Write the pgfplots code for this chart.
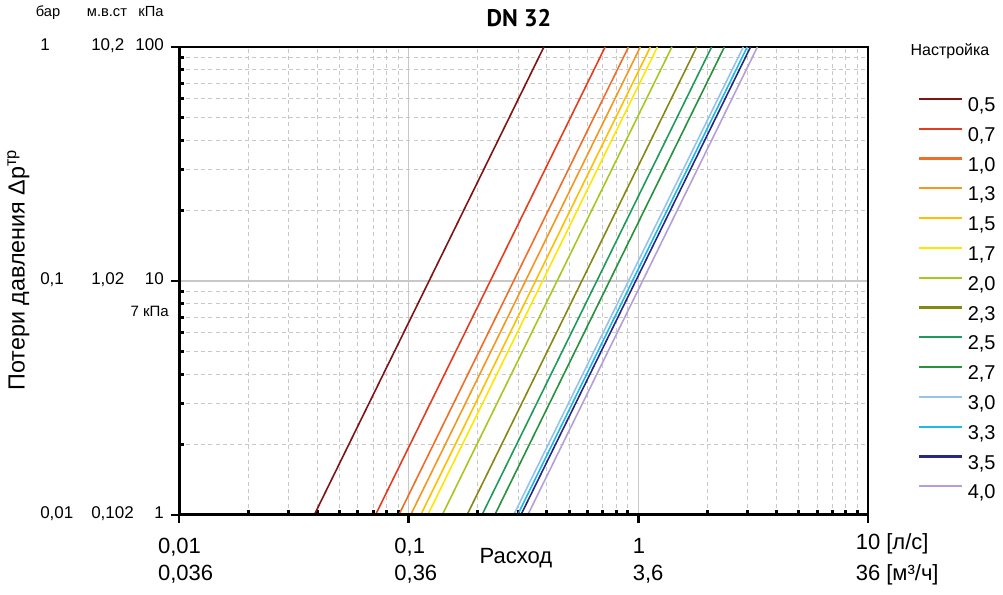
\documentclass[border=0pt]{standalone}
\usepackage{pgfplots}
\pgfplotsset{compat=1.18}
\usepackage{fontspec}
\setmainfont{Liberation Sans}
\newfontfamily\titlefont{PT Sans}
\definecolor{c05}{RGB}{128,20,20}
\definecolor{c07}{RGB}{230,60,30}
\definecolor{c10}{RGB}{240,110,40}
\definecolor{c13}{RGB}{245,150,30}
\definecolor{c15}{RGB}{255,190,0}
\definecolor{c17}{RGB}{255,230,0}
\definecolor{c20}{RGB}{165,200,30}
\definecolor{c23}{RGB}{135,135,20}
\definecolor{c25}{RGB}{30,155,90}
\definecolor{c27}{RGB}{40,145,60}
\definecolor{c30}{RGB}{150,195,235}
\definecolor{c33}{RGB}{30,185,235}
\definecolor{c35}{RGB}{40,40,130}
\definecolor{c40}{RGB}{180,160,215}
\definecolor{gridc}{RGB}{200,200,200}
\newcommand\fa{\fontsize{12.75}{15}\selectfont}
\newcommand\fb{\fontsize{16.5}{19}\selectfont}
\newcommand\fc{\fontsize{15}{18}\selectfont}
\newcommand\fh{\fontsize{11}{13}\selectfont}
\begin{document}
\begin{tikzpicture}[x=0.75pt,y=0.75pt]
\useasboundingbox (0,0) rectangle (1003,595);
\begin{axis}[
  at={(134.25pt,60pt)}, anchor=south west,
  scale only axis, width=516.75pt, height=351pt,
  xmode=log, ymode=log,
  xmin=0.01, xmax=10, ymin=1, ymax=100,
  log basis x=10, log basis y=10,
  xtick={0.01,0.1,1,10}, ytick={1,10,100},
  minor xtick={0.02,0.03,0.04,0.05,0.06,0.07,0.08,0.09,0.2,0.3,0.4,0.5,0.6,0.7,0.8,0.9,2,3,4,5,6,7,8,9},
  minor ytick={2,3,4,5,6,7,8,9,20,30,40,50,60,70,80,90},
  xticklabels={}, yticklabels={},
  tick pos=left,
  tick align=inside,
  major tick length=-6pt,
  minor tick length=3.75pt,
  major tick style={black, line width=2.2pt},
  minor tick style={black, line width=2.2pt},
  grid=both,
  major grid style={gridc, line width=0.8pt, solid},
  minor grid style={gridc, line width=0.8pt, dash pattern=on 3pt off 2.5pt},
  axis line style={black, line width=1.1pt},
  legend cell align=left,
  legend image code/.code={\draw[#1, line width=1.6pt] (0pt,4pt) -- (32pt,4pt);},
  legend style={at={(1.0726,0.894)}, anchor=north west, draw=none, fill=none,
    font=\fc, row sep=11.35pt, inner sep=0pt,
    nodes={inner sep=0pt, text height=11pt, text depth=0pt},
    /tikz/every odd column/.append style={column sep=3.5pt}},
  every axis plot/.append style={line width=1.2pt},
]
\addplot[c05] coordinates {(0.0388,1) (0.388,100)};
\addplot[c07] coordinates {(0.0717,1) (0.717,100)};
\addplot[c10] coordinates {(0.0906,1) (0.906,100)};
\addplot[c13] coordinates {(0.1020,1) (1.020,100)};
\addplot[c15] coordinates {(0.1128,1) (1.128,100)};
\addplot[c17] coordinates {(0.1211,1) (1.211,100)};
\addplot[c20] coordinates {(0.1400,1) (1.400,100)};
\addplot[c23] coordinates {(0.1795,1) (1.795,100)};
\addplot[c25] coordinates {(0.2085,1) (2.085,100)};
\addplot[c27] coordinates {(0.2370,1) (2.370,100)};
\addplot[c30] coordinates {(0.2865,1) (2.865,100)};
\addplot[c33] coordinates {(0.2980,1) (2.980,100)};
\addplot[c35] coordinates {(0.3080,1) (3.080,100)};
\addplot[c40] coordinates {(0.3300,1) (3.300,100)};
\legend{{0,5},{0,7},{1,0},{1,3},{1,5},{1,7},{2,0},{2,3},{2,5},{2,7},{3,0},{3,3},{3,5},{4,0}}
\draw[black, line width=3pt] (rel axis cs:0,0) -- (rel axis cs:0,1);
\draw[black, line width=3pt] (rel axis cs:0,0) -- (rel axis cs:1,0);
\end{axis}
% title
\node[font=\titlefont\bfseries\fontsize{18}{21}\selectfont] at (519,577) {DN 32};
% y headers
\node[font=\fh, anchor=mid] at (48,582) {бар};
\node[font=\fh, anchor=mid] at (107,582) {м.в.ст};
\node[font=\fh, anchor=mid] at (151,582) {кПа};
% y tick labels
\foreach \yy/\a/\b/\c in {548/1/{10,2}/100, 314/{0,1}/{1,02}/10, 80/{0,01}/{0,102}/1} {
  \node[font=\fa, anchor=mid west, inner sep=0] at (40,\yy) {\a};
  \node[font=\fa, anchor=mid west, inner sep=0] at (91,\yy) {\b};
  \node[font=\fa, anchor=mid east, inner sep=0] at (164,\yy) {\c};
}
\node[font=\fontsize{11.25}{13}\selectfont, anchor=mid east, inner sep=0] at (169,282) {7 кПа};
% x tick labels
\coordinate (r2) at (0,18);
\node[font=\fb, anchor=mid, inner sep=0] (xa) at (179.5,45) {0,01};
\node[font=\fb, anchor=mid west, inner sep=0] at (xa.west |- r2) {0,036};
\node[font=\fb, anchor=mid, inner sep=0] (xb) at (409.7,45) {0,1};
\node[font=\fb, anchor=mid west, inner sep=0] at (xb.west |- r2) {0,36};
\node[font=\fb, anchor=mid, inner sep=0] (xc) at (639,45) {1};
\node[font=\fb, anchor=mid west, inner sep=0] at (xc.west |- r2) {3,6};
\node[font=\fb, anchor=mid, inner sep=0] (xd) at (868,45) {\phantom{10}};
\node[font=\fb, anchor=mid west, inner sep=0] at (xd.west) {10 [л/с]};
\node[font=\fb, anchor=mid west, inner sep=0] at (xd.west |- r2) {36 [м³/ч]};
\node[font=\fb, anchor=mid] at (516,35) {Расход};
% y label
\node[font=\fontsize{17.5}{20}\selectfont, rotate=90, anchor=mid] at (21,325) {Потери давления Δp\textsuperscript{тр}};
% legend title
\node[font=\fontsize{12}{14}\selectfont, anchor=mid] at (950,543) {Настройка};
\end{tikzpicture}
\end{document}
